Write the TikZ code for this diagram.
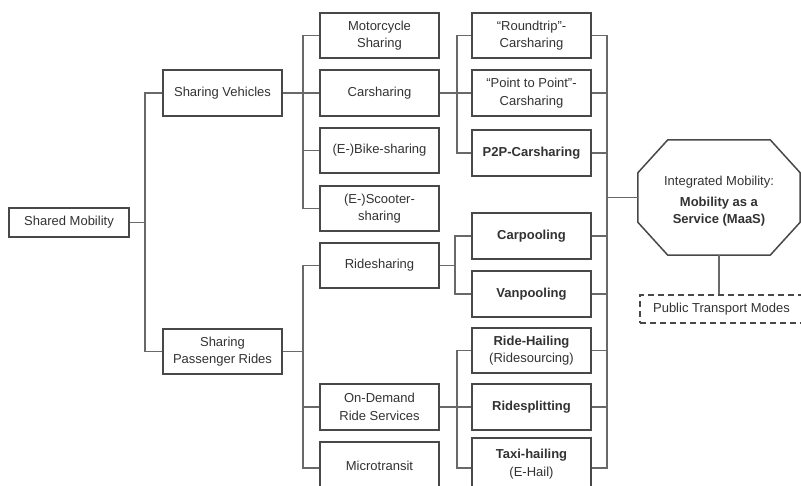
\documentclass[tikz,border=0pt]{standalone}
\usepackage{fontspec}
\setmainfont{Liberation Sans}
\definecolor{boxc}{RGB}{72,72,72}
\definecolor{linec}{RGB}{105,105,105}
\definecolor{txtc}{RGB}{50,50,50}
\newcommand\boxfont{\fontsize{13}{17.5}\selectfont}
\begin{document}
\begin{tikzpicture}[x=1pt,y=-1pt,
  box/.style={draw=boxc, line width=1.5pt, minimum width=119pt, inner sep=0pt,
    align=center, text=txtc, font=\boxfont},
  conn/.style={draw=linec, line width=1.6pt},
]
\useasboundingbox (0,0) rectangle (801,485);
% column 0 / 1
\node[box, minimum width=120pt, minimum height=29pt] (sm) at (69,222.5) {Shared Mobility};
\node[box, minimum height=46pt] (sv) at (222.5,93) {Sharing Vehicles};
\node[box, minimum height=45pt] (spr) at (222.5,351.5) {Sharing\\Passenger Rides};
% column 2
\node[box, minimum height=45pt] (moto) at (379.5,35.5) {Motorcycle\\Sharing};
\node[box, minimum height=46pt] (carsh) at (379.5,93) {Carsharing};
\node[box, minimum height=45pt] (bike) at (379.5,150.5) {(E-)Bike-sharing};
\node[box, minimum height=45pt] (scoot) at (379.5,208.5) {(E-)Scooter-\\sharing};
\node[box, minimum height=45pt] (rides) at (379.5,265.5) {Ridesharing};
\node[box, minimum height=46pt] (ondem) at (379.5,407) {On-Demand\\Ride Services};
\node[box, minimum height=48pt] (micro) at (379.5,466) {Microtransit};
% column 3
\node[box, minimum height=45pt] (round) at (531.5,35.5) {“Roundtrip”-\\Carsharing};
\node[box, minimum height=46pt] (p2p) at (531.5,93) {“Point to Point”-\\Carsharing};
\node[box, minimum height=46pt] (p2pc) at (531.5,153) {\textbf{P2P-Carsharing}};
\node[box, minimum height=46pt] (carp) at (531.5,236) {\textbf{Carpooling}};
\node[box, minimum height=46pt] (vanp) at (531.5,294) {\textbf{Vanpooling}};
\node[box, minimum height=45pt] (rhail) at (531.5,350.5) {\textbf{Ride-Hailing}\\(Ridesourcing)};
\node[box, minimum height=46pt] (rsplit) at (531.5,407) {\textbf{Ridesplitting}};
\node[box, minimum height=52pt] (taxi) at (531.5,464) {\textbf{Taxi-hailing}\\(E-Hail)};
% MaaS octagon
\node[minimum width=162pt, minimum height=115pt, inner sep=0pt,
  text=txtc] (maas) at (719,197.5)
  {\parbox{150pt}{\centering\vspace*{8pt}\boxfont Integrated Mobility:\\[3pt]\textbf{Mobility as a}\\\textbf{Service (MaaS)}}};
\draw[draw=boxc, line width=1.5pt]
  ([xshift=30pt]maas.north west) -- ([xshift=-30pt]maas.north east)
  -- ([yshift=-33pt]maas.north east) -- ([yshift=33pt]maas.south east)
  -- ([xshift=-30pt]maas.south east) -- ([xshift=30pt]maas.south west)
  -- ([yshift=33pt]maas.south west) -- ([yshift=-33pt]maas.north west) -- cycle;
\node[box, dash pattern=on 6pt off 4pt, line width=1.3pt, minimum width=163pt,
  minimum height=28pt] (ptm) at (721.5,309) {Public Transport Modes};
% connectors
\path (sm.east) ++(15,0) coordinate (t0);
\draw[conn] (sm.east) -- (t0);
\draw[conn] (sv.west) -- (sv.west -| t0) -- (spr.west -| t0) -- (spr.west);
\path (sv.east) ++(20,0) coordinate (t1);
\draw[conn] (moto.west) -- (moto.west -| t1) -- (scoot.west -| t1) -- (scoot.west);
\draw[conn] (sv.east) -- (carsh.west);
\draw[conn] (bike.west -| t1) -- (bike.west);
\draw[conn] (rides.west) -- (rides.west -| t1) -- ([yshift=-2pt]micro.west -| t1) -- ([yshift=-2pt]micro.west);
\draw[conn] (spr.east) -- (spr.east -| t1);
\draw[conn] (ondem.west -| t1) -- (ondem.west);
\path (carsh.east) ++(17,0) coordinate (t2);
\draw[conn] (round.west) -- (round.west -| t2) -- (p2pc.west -| t2) -- (p2pc.west);
\draw[conn] (carsh.east) -- (p2p.west);
\path (rides.east) ++(15,0) coordinate (t3);
\draw[conn] (carp.west) -- (carp.west -| t3) -- (vanp.west -| t3) -- (vanp.west);
\draw[conn] (rides.east) -- (rides.east -| t3);
\draw[conn] (rhail.west) -- (rhail.west -| t2) -- ([yshift=-4pt]taxi.west -| t2) -- ([yshift=-4pt]taxi.west);
\draw[conn] (ondem.east) -- (rsplit.west);
\path (round.east) ++(15,0) coordinate (t4);
\draw[conn] (round.east) -- (round.east -| t4) -- ([yshift=-4pt]taxi.east -| t4) -- ([yshift=-4pt]taxi.east);
\foreach \n in {p2p,p2pc,carp,vanp,rhail,rsplit}
  \draw[conn] (\n.east) -- (\n.east -| t4);
\draw[conn] (maas.west -| t4) -- (maas.west);
\draw[conn] (maas.south) -- (maas.south |- ptm.north);
\end{tikzpicture}
\end{document}
